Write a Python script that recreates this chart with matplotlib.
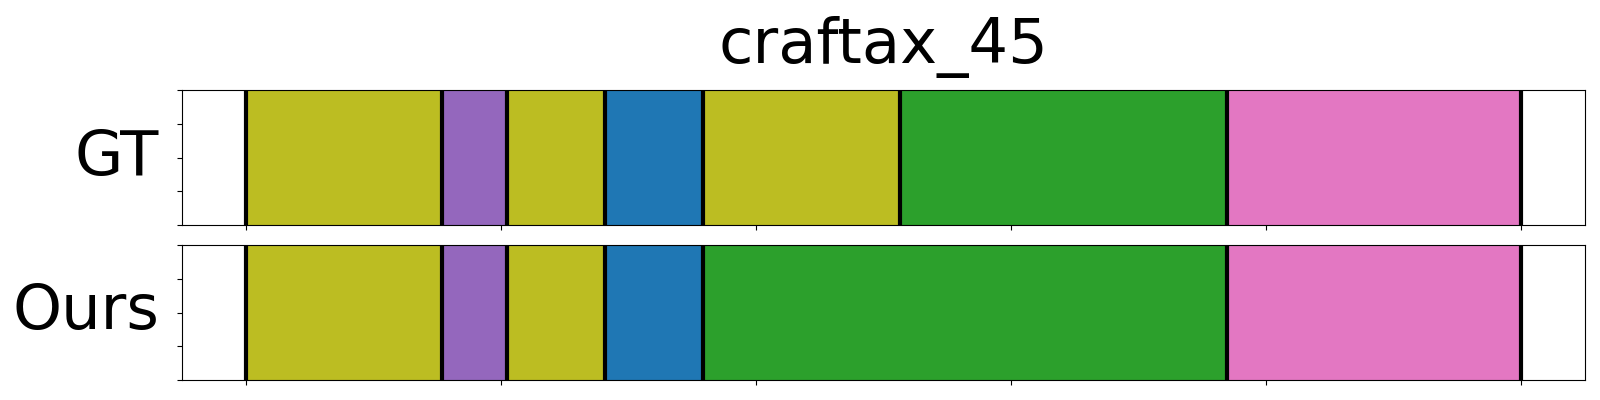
import matplotlib
matplotlib.use("Agg")
import matplotlib.pyplot as plt
import matplotlib.colors as mcolors

title = "craftax_45"
row_names = ["GT", "Ours"]

# segment boundaries (frame units) and class ids (tab10 index)
gt_bounds = [0, 38.4, 51.2, 70.4, 89.6, 128.2, 192.3, 250]
gt_classes = [8, 4, 8, 0, 8, 2, 6]
ours_bounds = [0, 38.4, 51.2, 70.4, 89.6, 192.3, 250]
ours_classes = [8, 4, 8, 0, 2, 6]

palette = plt.get_cmap("tab10").colors

fig = plt.figure(figsize=(16, 4), dpi=100)
ax_top = fig.add_axes([0.1136, 0.4375, 0.8772, 0.3367])
ax_bot = fig.add_axes([0.1136, 0.05, 0.8772, 0.3375], sharex=ax_top)

rows = [(ax_top, gt_bounds, gt_classes), (ax_bot, ours_bounds, ours_classes)]
for (ax, bounds, classes), name in zip(rows, row_names):
    for i, c in enumerate(classes):
        col = palette[c]
        edge = tuple(v * 0.85 for v in mcolors.to_rgb(col))
        ax.barh(0.5, bounds[i + 1] - bounds[i], left=bounds[i], height=1.0,
                color=col, edgecolor=edge, linewidth=0.8, zorder=1)
    for b in bounds:
        ax.axvline(b, color="black", linewidth=3, zorder=3)
    ax.set_ylim(0, 1)
    ax.set_yticks([0, 0.25, 0.5, 0.75, 1.0])
    ax.tick_params(labelleft=False, labelbottom=False)
    ax.set_ylabel(name, fontsize=45, rotation=0, ha="right", va="center",
                  labelpad=12.8)

ax_top.set_xticks([0, 50, 100, 150, 200, 250])
ax_top.set_xlim(-12.5, 262.5)
ax_top.set_title(title, fontsize=45, pad=20)

fig.savefig("out.png", dpi=100)
